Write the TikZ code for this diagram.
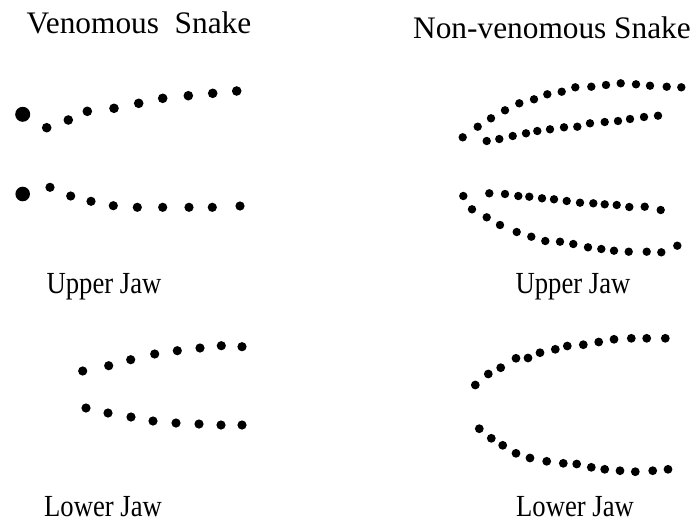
\documentclass[tikz,border=0pt]{standalone}
\usepackage{fontspec}
\setmainfont{Liberation Serif}
\usepackage{tikz}
\usetikzlibrary{positioning}

\begin{document}
\begin{tikzpicture}[
      x=0.75pt, y=-0.75pt,
      title/.style={anchor=base, inner sep=0pt, font=\fontsize{23.5}{26}\selectfont},
      jaw/.style={anchor=base, inner sep=0pt, yscale=1.15, transform shape,
                  font=\fontsize{20}{24}\selectfont},
      fang/.style={fill=black},
      tooth/.style={fill=black}]
    \useasboundingbox (0,0) rectangle (692,525);
    % headings
    \node[title] (venom)    at (139,33) {Venomous\ \ Snake};
    \node[title] (nonvenom) at (552,38) {Non-venomous Snake};
    \node[jaw] (vupper) at (104,293) {Upper Jaw};
    \node[jaw] (nupper) at (573,293) {Upper Jaw};
    \node[jaw] (vlower) at (103,516) {Lower Jaw};
    \node[jaw] (nlower) at (575,516) {Lower Jaw};
    % venomous, upper jaw
    \fill[fang] (22.7,114.3) circle (7.5);
    \fill[fang] (22.7,194) circle (7.3);
    \foreach \x/\y in {46.7/127.7, 68.3/120, 87.3/111.3, 114/108.3, 138.7/103.3,
                       162.7/98.3, 188.3/95.7, 212.7/93.3, 236.7/91}
      \fill[tooth] (\x,\y) circle (4.8);
    \foreach \x/\y in {50/187.3, 70.7/196, 91/201.3, 113.3/205.7, 137.3/207.3,
                       162.7/207.3, 189/207.3, 212.3/207.3, 240/206}
      \fill[tooth] (\x,\y) circle (4.6);
    % venomous, lower jaw
    \foreach \x/\y in {82.7/371, 108.7/365.7, 130.7/359.7, 154.7/354, 177.3/350.7,
                       200/348, 221.3/345.7, 242/346.7}
      \fill[tooth] (\x,\y) circle (4.6);
    \foreach \x/\y in {86/408, 108/413, 131/417, 153/421, 176/423, 199/424,
                       221/425, 242/425}
      \fill[tooth] (\x,\y) circle (4.6);
    % non-venomous, upper jaw
    \foreach \x/\y in {462.7/137.3, 477.7/126.7, 491/118.3, 505/110.3, 519.3/103.3,
                       534/99.3, 547.3/94.3, 561.7/91.7, 575.3/87.3, 591.3/86.7,
                       606/85, 620.7/83.3, 636/84.3, 650/85.7, 666.7/86.7, 681.3/87.3}
      \fill[tooth] (\x,\y) circle (4.2);
    \foreach \x/\y in {486.7/141, 499.3/139, 512.7/136, 526/133.3, 537.3/131,
                       550/129.3, 564/127.3, 577.3/126.7, 590/123.3, 604.7/122,
                       618/121, 630/119, 644/117, 658/115.7}
      \fill[tooth] (\x,\y) circle (4.2);
    \foreach \x/\y in {463.3/196, 489.3/193.3, 505/194, 518.3/196, 529.3/196.7,
                       542/198.3, 554/199.3, 566.7/201, 580/202.7, 593.3/203.3,
                       604.7/204.3, 616.7/205, 629.3/207, 644.7/206.7, 660.7/210}
      \fill[tooth] (\x,\y) circle (4.2);
    \foreach \x/\y in {472/209.3, 486.7/217.3, 500/225, 516.7/232, 531.3/236.7,
                       545.3/241, 560/241.7, 573.3/244, 588/247.3, 601.3/249,
                       614/250.7, 628.7/251.7, 646.7/251.7, 661.3/252.3, 677.3/245.7}
      \fill[tooth] (\x,\y) circle (4.2);
    % non-venomous, lower jaw
    \foreach \x/\y in {475.3/385, 488.3/374, 500.7/367.7, 516/358.3, 528/358,
                       540/352.7, 555.3/349.3, 567.3/346, 583.3/344.7, 598.7/342,
                       614/339.3, 631.3/338.3, 646.7/338.3, 665.3/338.3}
      \fill[tooth] (\x,\y) circle (4.4);
    \foreach \x/\y in {479.3/428.7, 491.3/438.3, 502.7/445.3, 516/453.3, 530/458,
                       546.7/461.3, 563.3/463.3, 576.7/464, 591.3/467.3, 604.7/469.3,
                       620/470.7, 635.3/471.7, 652.7/470.7, 668/469.3}
      \fill[tooth] (\x,\y) circle (4.4);
  \end{tikzpicture}
\end{document}
